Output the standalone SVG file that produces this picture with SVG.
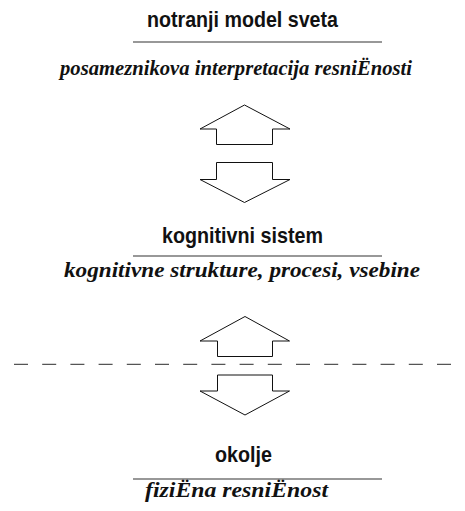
<svg xmlns="http://www.w3.org/2000/svg" width="465" height="511" viewBox="0 0 465 511">
<style>
.t{font-family:"Liberation Sans",Arial,sans-serif;font-weight:bold;font-size:22px;fill:#111;text-anchor:middle}
.s{font-family:"Liberation Serif","Times New Roman","DejaVu Serif",serif;font-weight:bold;font-style:italic;font-size:22px;fill:#111;text-anchor:middle}
.rule{stroke:#333;stroke-width:1.2;fill:none}
.arr{fill:#fff;stroke:#111;stroke-width:1;stroke-linejoin:miter}
.dash{stroke:#555;stroke-width:1.2;stroke-dasharray:14 14.2;fill:none}
</style>
<rect width="465" height="511" fill="#fff"/>
<g id="node-model">
<text class="t" x="242.5" y="27" textLength="191" lengthAdjust="spacingAndGlyphs">notranji model sveta</text>
<line class="rule" x1="133" y1="42" x2="382" y2="42" stroke="#777"/>
<text class="s" x="236" y="75" textLength="352" lengthAdjust="spacingAndGlyphs">posameznikova interpretacija resniËnosti</text>
</g>
<g id="node-kognitivni">
<text class="t" x="242.5" y="243" textLength="161" lengthAdjust="spacingAndGlyphs">kognitivni sistem</text>
<line class="rule" x1="133" y1="256" x2="382" y2="256"/>
<text class="s" x="242" y="277" textLength="356" lengthAdjust="spacingAndGlyphs">kognitivne strukture, procesi, vsebine</text>
</g>
<g id="node-okolje">
<text class="t" x="243.5" y="462" textLength="57" lengthAdjust="spacingAndGlyphs">okolje</text>
<line class="rule" x1="133" y1="479" x2="382" y2="479"/>
<text class="s" x="236.5" y="497" textLength="183" lengthAdjust="spacingAndGlyphs">fiziËna resniËnost</text>
</g>
<g id="boundary">
<line class="dash" x1="14" y1="364.3" x2="455" y2="364.3"/>
</g>
<g id="connectors">
<polygon class="arr" points="244.5,105 290,129 272.5,129 272.5,144.5 216.5,144.5 216.5,129 200,129"/>
<polygon class="arr" points="216.5,162.5 272.5,162.5 272.5,179.5 290,179.5 244.5,202.5 200,179.5 216.5,179.5"/>
<polygon class="arr" points="245,316.5 289.5,341 272.5,341 272.5,356.5 217.5,356.5 217.5,341 200,341"/>
<polygon class="arr" points="217.5,375 272.5,375 272.5,391 289.5,391 245,415 200,391 217.5,391"/>
</g>
</svg>
